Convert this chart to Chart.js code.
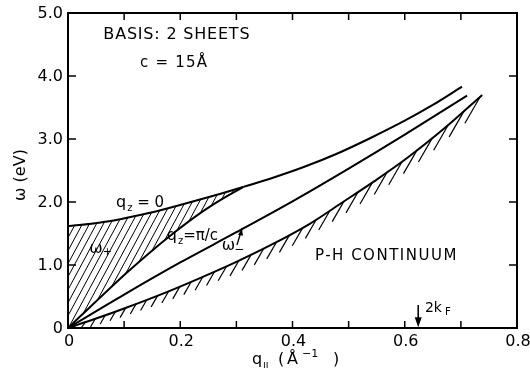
<!DOCTYPE html>
<html><head><meta charset="utf-8">
<script src="https://cdn.jsdelivr.net/npm/chart.js@4/dist/chart.umd.min.js"></script>
<style>html,body{margin:0;padding:0;background:#fff}#wrap{width:530px;height:383px}</style>
</head><body><div id="wrap"><canvas id="c" width="530" height="383"></canvas></div>
<script>
// ---- data ----
const xTickValues = [0, 0.1, 0.2, 0.3, 0.4, 0.5, 0.6, 0.7, 0.8];
const xTickLabels = ['0', '', '0.2', '', '0.4', '', '0.6', '', '0.8'];
const yTickValues = [0, 1, 2, 3, 4, 5];
const yTickLabels = ['0', '1.0', '2.0', '3.0', '4.0', '5.0'];

// omega+ band (q <= junction)
const qPlusBand   = [0, 0.02, 0.045, 0.07, 0.105, 0.146, 0.19, 0.235, 0.275, 0.3125];
const wPlusQz0    = [1.62, 1.635, 1.66, 1.69, 1.75, 1.83, 1.93, 2.04, 2.14, 2.24];
const wPlusQzPi   = [0, 0.17, 0.38, 0.59, 0.88, 1.20, 1.52, 1.82, 2.05, 2.24];
// omega+ beyond junction
const qPlusHigh   = [0.3125, 0.36, 0.42, 0.48, 0.54, 0.60, 0.65, 0.702];
const wPlusHigh   = [2.24, 2.37, 2.555, 2.77, 3.02, 3.29, 3.54, 3.83];
// omega- branch
const qMinus      = [0, 0.1, 0.2, 0.3, 0.4, 0.5, 0.6, 0.711];
const wMinus      = [0, 0.53, 1.04, 1.52, 2.01, 2.53, 3.07, 3.69];
// particle-hole continuum edge
const qPH         = [0, 0.05, 0.1, 0.176, 0.232, 0.3, 0.36, 0.43, 0.49, 0.544, 0.6, 0.676, 0.738];
const wPH         = [0, 0.15, 0.31, 0.57, 0.78, 1.05, 1.31, 1.65, 2.00, 2.32, 2.67, 3.21, 3.70];
const twoKF = 0.624;

const pts = (xs, ys) => xs.map((x, i) => ({x, y: ys[i]}));
const FONT = '"DejaVu Sans", "Liberation Sans", sans-serif';

function hatchPattern() {
  const t = document.createElement('canvas');
  t.width = 7; t.height = 13;
  const g = t.getContext('2d');
  g.strokeStyle = '#000'; g.lineWidth = 1;
  for (let k = -1; k <= 1; k++) {
    g.beginPath(); g.moveTo(k * 7, 13); g.lineTo(k * 7 + 7, 0); g.stroke();
  }
  return g.createPattern(t, 'repeat');
}

function interp(xs, ys, x) {
  for (let i = 1; i < xs.length; i++) {
    if (x <= xs[i]) {
      const t = (x - xs[i - 1]) / (xs[i] - xs[i - 1]);
      return ys[i - 1] + t * (ys[i] - ys[i - 1]);
    }
  }
  return ys[ys.length - 1];
}

const decor = {
  id: 'decor',
  afterDatasetsDraw(chart) {
    const ctx = chart.ctx, a = chart.chartArea;
    const xs = chart.scales.x, ys = chart.scales.y;
    const P = (q, w) => [xs.getPixelForValue(q), ys.getPixelForValue(w)];
    ctx.save();
    ctx.fillStyle = '#000'; ctx.strokeStyle = '#000';

    // P-H continuum hatching under the edge
    ctx.lineWidth = 1.2;
    const qEnd = qPH[qPH.length - 1];
    const pxPerQ = xs.getPixelForValue(1) - xs.getPixelForValue(0);
    let q = 0.014;
    while (q <= qEnd + 1e-6) {
      const [x0, y0] = P(q, interp(qPH, wPH, q));
      const L = 8 + 23 * (q / qEnd);
      ctx.beginPath(); ctx.moveTo(x0, y0);
      ctx.lineTo(Math.max(a.left, x0 - 0.5 * L), Math.min(a.bottom, y0 + 0.866 * L));
      ctx.stroke();
      q += (9.5 + 7 * (q / qEnd)) / pxPerQ;
    }

    // frame
    ctx.lineWidth = 2;
    ctx.strokeRect(a.left, a.top, a.right - a.left, a.bottom - a.top);
    // inward ticks
    ctx.lineWidth = 1.5;
    xTickValues.forEach(v => {
      const x = xs.getPixelForValue(v);
      ctx.beginPath(); ctx.moveTo(x, a.bottom); ctx.lineTo(x, a.bottom - 7);
      ctx.moveTo(x, a.top); ctx.lineTo(x, a.top + 7); ctx.stroke();
    });
    yTickValues.forEach(v => {
      const y = ys.getPixelForValue(v);
      ctx.beginPath(); ctx.moveTo(a.left, y); ctx.lineTo(a.left + 8, y);
      ctx.moveTo(a.right, y); ctx.lineTo(a.right - 8, y); ctx.stroke();
    });

    // tick labels
    ctx.font = '16px ' + FONT;
    ctx.textAlign = 'center'; ctx.textBaseline = 'top';
    xTickValues.forEach((v, i) => {
      if (xTickLabels[i]) ctx.fillText(xTickLabels[i], xs.getPixelForValue(v) + 1, a.bottom + 6);
    });
    ctx.textAlign = 'right'; ctx.textBaseline = 'middle';
    yTickValues.forEach((v, i) => {
      ctx.fillText(yTickLabels[i], a.left - 5, ys.getPixelForValue(v) + 1);
    });

    const txt = (s, q, w, size, align, spacing) => {
      ctx.font = size + 'px ' + FONT;
      ctx.letterSpacing = (spacing || 0) + 'px';
      ctx.textAlign = align || 'left'; ctx.textBaseline = 'alphabetic';
      const [x, y] = P(q, w);
      ctx.fillText(s, x, y);
      ctx.letterSpacing = '0px';
    };
    // parts: [text, size, dy, dx]
    const rich = (parts, x, y) => {
      ctx.textAlign = 'left'; ctx.textBaseline = 'alphabetic';
      parts.forEach(p => {
        ctx.font = p[1] + 'px ' + FONT;
        ctx.fillText(p[0], x + (p[3] || 0), y + (p[2] || 0));
        x += ctx.measureText(p[0]).width + (p[3] || 0);
      });
    };

    txt('BASIS: 2 SHEETS', 0.194, 4.59, 16, 'center', 0.8);
    txt('c = 15Å', 0.189, 4.14, 15, 'center', 1.2);
    txt('P-H CONTINUUM', 0.440, 1.079, 15, 'left', 1.5);

    let [x, y] = P(0.0855, 1.92);
    rich([['q', 16], ['z', 10, 4, 1], [' = 0', 15]], x, y);
    [x, y] = P(0.038, 1.19);
    rich([['ω', 16], ['+', 11, 2, 0]], x, y);
    [x, y] = P(0.176, 1.40);
    rich([['q', 16], ['z', 10, 4, 1], ['=π/c', 15, 0, 0]], x, y);
    [x, y] = P(0.274, 1.24);
    rich([['ω', 16], ['−', 12, 3, -1]], x, y);

    // omega- arrow
    let [ax0, ay0] = P(0.301, 1.317), [ax1, ay1] = P(0.310, 1.575);
    ctx.lineWidth = 1.3;
    ctx.beginPath(); ctx.moveTo(ax0, ay0); ctx.lineTo(ax1, ay1); ctx.stroke();
    ctx.beginPath(); ctx.moveTo(ax1, ay1); ctx.lineTo(ax1 - 4, ay1 + 6); ctx.lineTo(ax1 + 1, ay1 + 7); ctx.closePath(); ctx.fill();

    // 2kF arrow
    [ax0, ay0] = P(twoKF, 0.365); [ax1, ay1] = P(twoKF, 0.01);
    ctx.lineWidth = 1.6;
    ctx.beginPath(); ctx.moveTo(ax0, ay0); ctx.lineTo(ax1, ay1 - 6); ctx.stroke();
    ctx.beginPath(); ctx.moveTo(ax1, ay1); ctx.lineTo(ax1 - 3.5, ay1 - 10); ctx.lineTo(ax1 + 3.5, ay1 - 10); ctx.closePath(); ctx.fill();
    [x, y] = P(0.636, 0.26);
    rich([['2k', 14], ['F', 10, 3, 3]], x, y);

    // axis titles
    const xt = (s, px, py, size) => { ctx.font = size + 'px ' + FONT; ctx.textAlign = 'left'; ctx.textBaseline = 'alphabetic'; ctx.fillText(s, px, py); };
    xt('q', 252, 364, 16);
    xt('ıı', 263, 368, 10);
    xt('(', 278, 364, 16);
    xt('Å', 287, 364, 16);
    xt('−1', 302, 357, 11);
    xt(')', 333, 364, 16);
    ctx.save();
    ctx.translate(25, 175); ctx.rotate(-Math.PI / 2);
    ctx.font = '16px ' + FONT; ctx.textAlign = 'center'; ctx.textBaseline = 'alphabetic';
    ctx.fillText('ω (eV)', 0, 0);
    ctx.restore();

    ctx.restore();
  }
};

const lineDs = (data, extra) => Object.assign({
  data, showLine: true, borderColor: '#000', borderWidth: 2, pointRadius: 0,
  fill: false, cubicInterpolationMode: 'monotone'
}, extra || {});

new Chart(document.getElementById('c'), {
  type: 'scatter',
  data: {
    datasets: [
      lineDs(pts(qPlusBand, wPlusQz0), {label: 'ω+ (qz=0)', fill: '+1', backgroundColor: hatchPattern()}),
      lineDs(pts(qPlusBand, wPlusQzPi), {label: 'ω+ (qz=π/c)'}),
      lineDs(pts(qPlusHigh, wPlusHigh), {label: 'ω+'}),
      lineDs(pts(qMinus, wMinus), {label: 'ω−'}),
      lineDs(pts(qPH, wPH), {label: 'P-H edge'})
    ]
  },
  options: {
    responsive: false, animation: false, devicePixelRatio: 1,
    layout: {padding: {top: 13, right: 13, left: 0, bottom: 0}},
    plugins: {legend: {display: false}, tooltip: {enabled: false}},
    scales: {
      x: {type: 'linear', min: 0, max: 0.8,
          ticks: {display: false, stepSize: 0.1}, grid: {display: false}, border: {display: false},
          afterFit: s => { s.height = 55; }},
      y: {type: 'linear', min: 0, max: 5,
          ticks: {display: false, stepSize: 1}, grid: {display: false}, border: {display: false},
          afterFit: s => { s.width = 68; }}
    }
  },
  plugins: [decor]
});
</script></body></html>
